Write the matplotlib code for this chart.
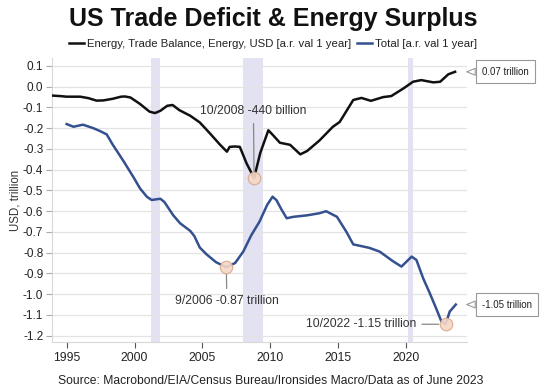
import matplotlib.pyplot as plt

plt.rcParams['font.family'] = ['Liberation Sans', 'DejaVu Sans']

# energy trade balance, USD trillion (annual rate)
energy_years = [1994.0, 1994.5, 1995.0, 1995.5, 1996.0, 1996.6, 1997.2, 1997.7, 1998.4, 1999.0,
                1999.3, 1999.7, 2000.4, 2001.1, 2001.5, 2001.9, 2002.4, 2002.8, 2003.3, 2004.1,
                2004.8, 2005.55, 2006.3, 2006.8, 2007.0, 2007.4, 2007.75, 2008.25, 2008.8, 2009.25,
                2009.85, 2010.2, 2010.7, 2011.45, 2012.2, 2012.7, 2013.6, 2014.6, 2015.1, 2016.1,
                2016.7, 2017.4, 2018.0, 2018.3, 2018.9, 2019.8, 2020.5, 2021.1, 2022.0, 2022.5,
                2023.1, 2023.6]
energy_vals = [-0.043, -0.045, -0.048, -0.048, -0.048, -0.055, -0.067, -0.066, -0.058, -0.048,
               -0.047, -0.052, -0.083, -0.12, -0.127, -0.116, -0.092, -0.088, -0.113, -0.14,
               -0.172, -0.225, -0.28, -0.313, -0.29, -0.288, -0.29, -0.37, -0.44, -0.32,
               -0.21, -0.234, -0.27, -0.28, -0.326, -0.31, -0.26, -0.193, -0.17, -0.064,
               -0.054, -0.068, -0.056, -0.05, -0.045, -0.008, 0.024, 0.032, 0.021, 0.024,
               0.06, 0.072]

# total trade balance, USD trillion (annual rate)
total_years = [1995.0, 1995.5, 1996.2, 1996.97, 1997.5, 1997.95, 1998.4, 1999.2, 1999.9, 2000.4,
               2000.9, 2001.26, 2001.9, 2002.2, 2002.85, 2003.35, 2004.1, 2004.4, 2004.8, 2005.3,
               2006.0, 2006.75, 2007.4, 2008.0, 2008.6, 2009.2, 2009.76, 2010.16, 2010.45, 2010.8,
               2011.2, 2011.7, 2012.7, 2013.6, 2014.1, 2014.9, 2015.6, 2016.1, 2016.6, 2017.3,
               2018.05, 2019.0, 2019.65, 2020.4, 2020.75, 2021.25, 2021.7, 2022.2, 2022.6, 2022.9,
               2023.2, 2023.65]
total_vals = [-0.18, -0.193, -0.183, -0.2, -0.215, -0.23, -0.28, -0.36, -0.434, -0.49,
              -0.53, -0.546, -0.54, -0.556, -0.62, -0.658, -0.695, -0.72, -0.775, -0.808,
              -0.846, -0.87, -0.85, -0.795, -0.715, -0.65, -0.57, -0.53, -0.547, -0.59,
              -0.634, -0.627, -0.62, -0.61, -0.6, -0.627, -0.7, -0.76, -0.767, -0.777,
              -0.795, -0.84, -0.867, -0.819, -0.835, -0.924, -0.99, -1.068, -1.133, -1.145,
              -1.084, -1.05]

# US recessions
recessions = [(2001.2, 2001.85), (2007.95, 2009.45), (2020.15, 2020.5)]

# highlighted points: (year, value, label)
lows = [(2008.8, -0.44, '10/2008 -440 billion'),
        (2006.75, -0.87, '9/2006 -0.87 trillion'),
        (2022.9, -1.145, '10/2022 -1.15 trillion')]

black = '#111111'
blue = '#34508f'

fig = plt.figure(figsize=(5.46, 3.9), dpi=100)
ax = fig.add_axes([0.0947, 0.1223, 0.76, 0.7282])

for a, b in recessions:
    ax.axvspan(a, b, color='#e2e2f2', lw=0, zorder=0)

ax.plot(energy_years, energy_vals, color=black, lw=1.8, solid_joinstyle='round', zorder=3,
        label='Energy, Trade Balance, Energy, USD [a.r. val 1 year]')
ax.plot(total_years, total_vals, color=blue, lw=1.8, solid_joinstyle='round', zorder=3,
        label='Total [a.r. val 1 year]')

ax.set_xlim(1993.9, 2024.45)
ax.set_ylim(-1.232, 0.137)
ax.set_xticks([1995, 2000, 2005, 2010, 2015, 2020])
ax.set_yticks([i / 10 for i in range(-12, 2)])
ax.set_yticklabels(['%.1f' % (i / 10) for i in range(-12, 2)])
ax.yaxis.grid(True, color='#e3e3e3', lw=0.9)
ax.set_axisbelow(True)
for s in ['top', 'right']:
    ax.spines[s].set_visible(False)
for s in ['left', 'bottom']:
    ax.spines[s].set_color('#d8d8d8')
ax.tick_params(axis='y', length=4, color='#aaaaaa', labelsize=8.5, labelcolor='#222222', pad=2)
ax.tick_params(axis='x', length=4, color='#555555', labelsize=8.7, labelcolor='#222222', pad=3)
ax.set_ylabel('USD, trillion', fontsize=8.3, color='#333333', labelpad=1)

# marked lows
for x, y, label in lows:
    ax.plot(x, y, 'o', ms=9, mfc='#f5d8c6', mec='#d9a585', mew=0.8, alpha=0.9, zorder=4)
ax.annotate(lows[0][2], xy=lows[0][:2], xytext=(2008.75, -0.115), ha='center', va='center',
            fontsize=8.7, color='#333333',
            arrowprops=dict(arrowstyle='-', color='#888888', lw=0.9, shrinkA=3, shrinkB=0))
ax.annotate(lows[1][2], xy=lows[1][:2], xytext=(2006.8, -1.035), ha='center', va='center',
            fontsize=8.7, color='#333333',
            arrowprops=dict(arrowstyle='-', color='#888888', lw=0.9, shrinkA=3, shrinkB=5))
ax.annotate(lows[2][2], xy=lows[2][:2], xytext=(2020.75, -1.145), ha='right', va='center',
            fontsize=8.7, color='#333333',
            arrowprops=dict(arrowstyle='-', color='#888888', lw=0.9, shrinkA=2, shrinkB=5))

# last value callouts
for vals, txt in [(energy_vals, '0.07 trillion'), (total_vals, '-1.05 trillion')]:
    ax.annotate(txt, xy=(1.0, vals[-1]), xycoords=('axes fraction', 'data'),
                xytext=(11, 0), textcoords='offset points', ha='left', va='center',
                fontsize=7, color='#222222', annotation_clip=False,
                bbox=dict(boxstyle='square,pad=0.65', fc='white', ec='#999999', lw=0.8),
                arrowprops=dict(arrowstyle='wedge,tail_width=0.7,shrink_factor=0.5',
                                fc='white', ec='#999999', lw=0.8, shrinkA=0, shrinkB=0))

fig.text(0.5, 0.951, 'US Trade Deficit & Energy Surplus', ha='center', va='center',
         fontsize=18, fontweight='bold', color='#111111')
fig.legend(loc='center', bbox_to_anchor=(0.5, 0.887), ncol=2, frameon=False, fontsize=8.2,
           handlelength=1.3, handletextpad=0.3, columnspacing=0.5, labelcolor='#222222')
fig.text(0.495, 0.024, 'Source: Macrobond/EIA/Census Bureau/Ironsides Macro/Data as of June 2023',
         ha='center', va='center', fontsize=8.7, color='#222222')

fig.savefig('out.png', dpi=100)
